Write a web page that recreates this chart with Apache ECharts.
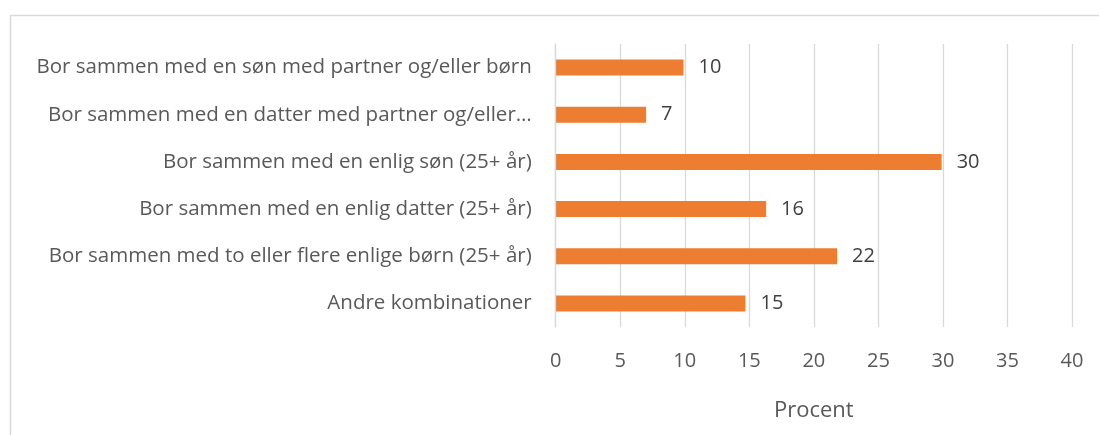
<!DOCTYPE html>
<html>
<head>
<meta charset="utf-8">
<script src="https://cdn.jsdelivr.net/npm/echarts@6/dist/echarts.min.js"></script>
<style>html,body{margin:0;padding:0;background:#fff}#c{width:1099px;height:435px}</style>
</head>
<body>
<div id="c"></div>
<script>
const categories = [
  "Bor sammen med en søn med partner og/eller børn",
  "Bor sammen med en datter med partner og/eller…",
  "Bor sammen med en enlig søn (25+ år)",
  "Bor sammen med en enlig datter (25+ år)",
  "Bor sammen med to eller flere enlige børn (25+ år)",
  "Andre kombinationer"
];
const values = [9.9, 7.0, 29.9, 16.3, 21.8, 14.7];
const xTicks = [0, 5, 10, 15, 20, 25, 30, 35, 40];

const FONT = 'Open Sans';
const chart = echarts.init(document.getElementById('c'));
chart.setOption({
  animation: false,
  textStyle: {fontFamily: FONT},
  graphic: [{
    type: 'rect',
    shape: {x: 10.5, y: 15.5, width: 1200, height: 600},
    style: {fill: 'none', stroke: '#d9d9d9', lineWidth: 1.5},
    silent: true
  }],
  grid: {left: 555.7, right: 27, top: 44, bottom: 108, containLabel: false},
  xAxis: {
    type: 'value',
    min: xTicks[0], max: xTicks[xTicks.length - 1], interval: 5,
    name: 'Procent', nameLocation: 'middle', nameGap: 73,
    nameTextStyle: {color: '#595959', fontSize: 22, fontFamily: FONT},
    axisLine: {show: false}, axisTick: {show: false},
    axisLabel: {color: '#595959', fontSize: 20, margin: 24, fontFamily: FONT},
    splitLine: {show: true, lineStyle: {color: '#d9d9d9', width: 1.3}}
  },
  yAxis: {
    type: 'category', inverse: true, data: categories,
    axisLine: {show: true, lineStyle: {color: '#d9d9d9', width: 1.3}},
    axisTick: {show: false},
    axisLabel: {color: '#595959', fontSize: 20.5, margin: 24, fontFamily: FONT},
    z: 3
  },
  series: [{
    type: 'bar', data: values, barWidth: 16,
    itemStyle: {color: '#ed7d31'},
    label: {show: true, position: 'right', distance: 15, color: '#404040', fontSize: 20, fontFamily: FONT,
      formatter: p => Math.round(p.value)}
  }]
});
</script>
</body>
</html>
